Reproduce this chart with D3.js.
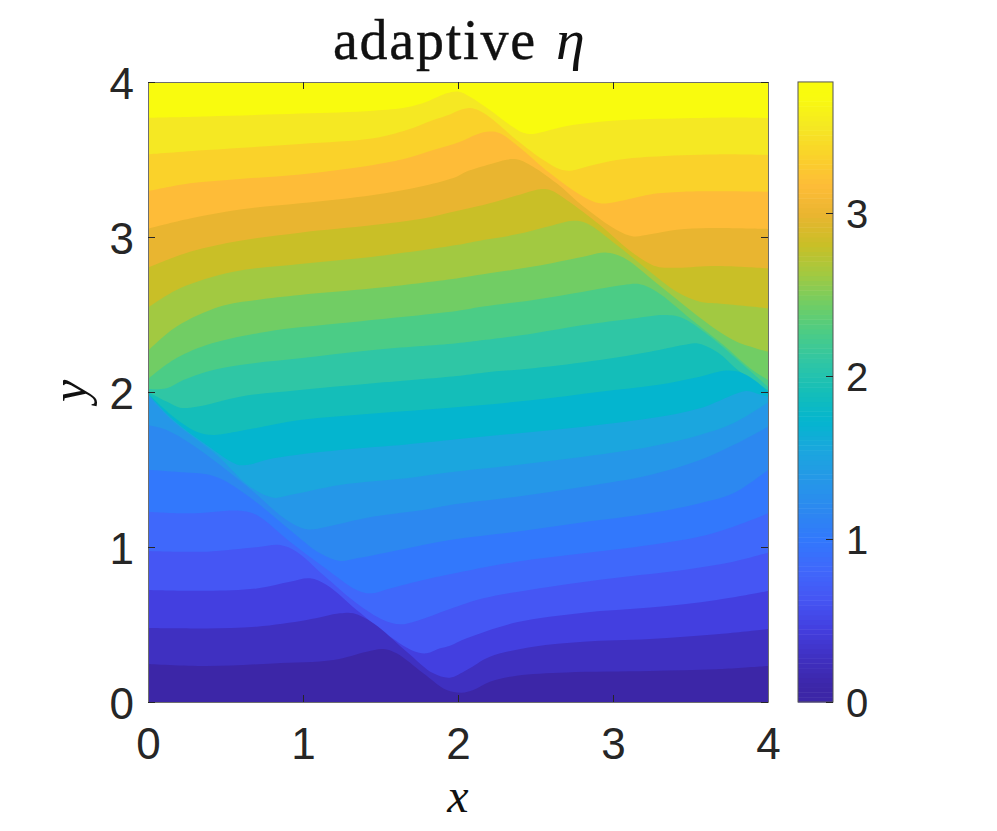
<!DOCTYPE html>
<html><head><meta charset="utf-8">
<style>html,body{margin:0;padding:0;background:#fff}svg{display:block}</style>
<script src="https://cdn.jsdelivr.net/npm/d3@7"></script></head>
<body><svg id="c" width="997" height="831"></svg>
<script>
// Band colours, from the highest band to the lowest
const bandColors = ["#F9FB0E","#F5E823","#FAD22A","#FEBC38","#E9B530","#C9BF27","#A2C941","#71CD64","#4BCC86","#2FC6A5","#14BEB9","#04B5CF","#1BA6DE","#2597E8","#2C88F0","#3278FC","#3F68FB","#4556F4","#433FE0","#3F30C1","#3C26A7"];
const etaMax = 3.804;
const xTicks = [0,1,2,3,4], yTicks = [0,1,2,3,4], cbTicks = [0,1,2,3];
// Contour lines [x, y], from the highest level to the lowest
const line01 = [[0,3.770],[.378,3.778],[.981,3.796],[1.454,3.815],[1.669,3.837],[1.798,3.873],[1.927,3.927],[2.0,3.938],[2.077,3.905],[2.206,3.819],[2.335,3.723],[2.421,3.673],[2.486,3.665],[2.594,3.690],[2.701,3.716],[2.916,3.744],[3.239,3.761],[3.669,3.770],[4,3.768]];
const line02 = [[0,3.533],[.378,3.561],[.981,3.600],[1.454,3.637],[1.669,3.690],[1.841,3.755],[1.948,3.791],[2.013,3.819],[2.077,3.832],[2.142,3.813],[2.228,3.755],[2.378,3.626],[2.551,3.497],[2.658,3.437],[2.723,3.428],[2.852,3.460],[3.024,3.497],[3.239,3.518],[3.669,3.533],[4,3.529]];
const line03 = [[0,3.295],[.271,3.346],[.594,3.374],[.981,3.404],[1.454,3.465],[1.669,3.508],[1.841,3.561],[2.013,3.615],[2.120,3.662],[2.206,3.680],[2.271,3.669],[2.378,3.594],[2.594,3.411],[2.809,3.260],[2.916,3.217],[3.024,3.228],[3.239,3.275],[3.454,3.292],[4,3.292]];
const line04 = [[0,3.054],[.271,3.120],[.594,3.178],[.981,3.217],[1.454,3.271],[1.776,3.329],[1.991,3.389],[2.056,3.422],[2.206,3.469],[2.314,3.499],[2.378,3.501],[2.465,3.465],[2.637,3.346],[2.809,3.196],[3.024,3.045],[3.131,3.004],[3.239,3.017],[3.411,3.047],[3.626,3.058],[4,3.052]];
const line05 = [[0,2.802],[.271,2.905],[.594,2.976],[.981,3.028],[1.454,3.077],[1.776,3.120],[1.991,3.168],[2.163,3.206],[2.378,3.267],[2.529,3.308],[2.594,3.303],[2.701,3.239],[2.916,3.077],[3.131,2.895],[3.282,2.809],[3.411,2.802],[3.669,2.813],[4,2.798]];
const line06 = [[0,2.544],[.206,2.669],[.551,2.776],[.981,2.826],[1.454,2.873],[1.991,2.948],[2.163,2.981],[2.378,3.017],[2.594,3.071],[2.744,3.105],[2.830,3.088],[3.024,2.948],[3.239,2.776],[3.411,2.647],[3.561,2.583],[3.669,2.572],[4,2.540]];
const line07 = [[0,2.265],[.185,2.422],[.465,2.551],[.701,2.594],[.981,2.626],[1.454,2.669],[1.991,2.733],[2.163,2.759],[2.486,2.809],[2.809,2.873],[2.959,2.899],[3.067,2.867],[3.282,2.701],[3.497,2.529],[3.669,2.400],[3.798,2.325],[4,2.260]];
const line08 = [[0,2.084],[.163,2.206],[.378,2.303],[.766,2.389],[1.239,2.443],[1.991,2.523],[2.163,2.551],[2.486,2.594],[2.809,2.647],[3.067,2.690],[3.174,2.695],[3.282,2.647],[3.497,2.475],[3.712,2.303],[3.884,2.153],[4,2.077]];
const line09 = [[0,2.019],[.120,2.024],[.228,2.077],[.378,2.131],[.594,2.174],[.981,2.217],[1.454,2.271],[1.991,2.314],[2.163,2.335],[2.486,2.378],[2.809,2.432],[3.131,2.475],[3.348,2.497],[3.454,2.475],[3.669,2.325],[3.841,2.174],[4,2.034]];
const line10 = [[0,2.0],[.120,1.938],[.206,1.899],[.314,1.905],[.594,1.970],[.981,2.013],[1.454,2.056],[1.991,2.103],[2.163,2.125],[2.486,2.153],[2.916,2.206],[3.239,2.260],[3.454,2.303],[3.540,2.314],[3.669,2.260],[3.819,2.131],[4,2.013]];
const line11 = [[0,1.99],[.163,1.841],[.314,1.744],[.422,1.723],[.594,1.748],[.981,1.819],[1.454,1.862],[1.948,1.899],[2.486,1.948],[2.916,2.002],[3.282,2.045],[3.561,2.099],[3.733,2.138],[3.841,2.120],[3.927,2.066],[4,2.002]];
const line12 = [[0,1.985],[.163,1.819],[.378,1.658],[.572,1.533],[.637,1.529],[.809,1.572],[1.239,1.626],[1.669,1.662],[1.948,1.690],[2.378,1.733],[2.809,1.776],[3.239,1.830],[3.561,1.895],[3.798,1.991],[3.862,2.006],[3.927,1.991],[4,1.970]];
const line13 = [[0,1.98],[.163,1.809],[.443,1.594],[.658,1.389],[.809,1.318],[.916,1.335],[1.239,1.400],[1.669,1.443],[1.948,1.482],[2.378,1.529],[2.809,1.583],[3.239,1.647],[3.561,1.723],[3.776,1.798],[4,1.933]];
const line14 = [[0,1.787],[.120,1.755],[.271,1.669],[.465,1.529],[.680,1.357],[.895,1.174],[1.024,1.114],[1.153,1.131],[1.454,1.196],[1.776,1.239],[1.948,1.271],[2.378,1.325],[2.809,1.389],[3.239,1.465],[3.561,1.561],[3.776,1.658],[4,1.776]];
const line15 = [[0,1.499],[.228,1.482],[.378,1.469],[.486,1.432],[.680,1.303],[.916,1.110],[1.110,.959],[1.239,.910],[1.346,.927],[1.669,.991],[1.948,1.045],[2.378,1.099],[2.809,1.159],[3.239,1.217],[3.561,1.282],[3.776,1.346],[4,1.497]];
const line16 = [[0,1.228],[.271,1.217],[.594,1.234],[.701,1.206],[.916,1.034],[1.131,.873],[1.346,.723],[1.432,.701],[1.561,.733],[1.776,.787],[1.948,.824],[2.378,.905],[2.809,.959],[3.239,1.013],[3.561,1.067],[3.776,1.131],[4,1.217]];
const line17 = [[0,.974],[.378,.970],[.701,.998],[.852,1.013],[.959,.970],[1.131,.819],[1.346,.637],[1.518,.529],[1.626,.501],[1.733,.523],[1.948,.600],[2.163,.669],[2.594,.744],[3.024,.802],[3.454,.852],[3.776,.905],[4,.963]];
const line18 = [[0,.723],[.378,.718],[.701,.733],[.916,.776],[1.045,.798],[1.153,.755],[1.346,.594],[1.561,.422],[1.712,.329],[1.798,.314],[1.884,.346],[1.948,.363],[2.056,.411],[2.378,.514],[2.809,.576],[3.239,.609],[3.669,.658],[4,.716]];
const line19 = [[0,.477],[.378,.475],[.701,.486],[1.024,.529],[1.239,.572],[1.325,.572],[1.454,.508],[1.669,.325],[1.841,.185],[1.948,.157],[2.056,.206],[2.206,.292],[2.486,.357],[2.809,.389],[3.239,.406],[3.669,.437],[4,.471]];
const line20 = [[0,.245],[.378,.232],[.809,.249],[1.196,.271],[1.411,.325],[1.518,.342],[1.604,.314],[1.776,.185],[1.927,.077],[2.024,.060],[2.099,.077],[2.206,.131],[2.378,.170],[2.701,.191],[3.239,.200],[3.669,.211],[4,.232]];
const contourLines = [line01,line02,line03,line04,line05,line06,line07,line08,line09,line10,line11,line12,line13,line14,line15,line16,line17,line18,line19,line20];

const ink = "#262626";
const svg = d3.select("#c");
const x = d3.scaleLinear().domain([0,4]).range([148,768]);
const y = d3.scaleLinear().domain([0,4]).range([702,82]);
const cb = d3.scaleLinear().domain([0,3]).range([702,213]);

svg.append("defs").append("clipPath").attr("id","plot").append("rect")
  .attr("x",x(0)).attr("y",y(4)).attr("width",x(4)-x(0)).attr("height",y(0)-y(4));
const plot = svg.append("g").attr("clip-path","url(#plot)");
plot.append("rect").attr("x",x(0)).attr("y",y(4)).attr("width",x(4)-x(0)).attr("height",y(0)-y(4)).attr("fill",bandColors[0]);
const area = d3.area().x(d=>x(d[0])).y0(y(0)).y1(d=>y(d[1])).curve(d3.curveCatmullRom.alpha(0.5));
plot.selectAll("path.band").data(contourLines).join("path").attr("class","band")
  .attr("d",area).attr("fill",(d,i)=>bandColors[i+1]);

function styleAxis(g,labels,size,dy){
  g.select(".domain").attr("stroke","#6e6e6e").attr("stroke-width",1);
  g.selectAll(".tick line").attr("stroke",ink).attr("stroke-width",1);
  g.selectAll(".tick text").attr("fill",ink).attr("font-family","'Liberation Sans',Arial,sans-serif").attr("font-size",size).attr("y",function(){return +this.getAttribute("y")||dy;});
  if(!labels) g.selectAll(".tick text").remove();
}
const mk = (gen,tx,ty,labels,size,dy)=>svg.append("g").attr("transform",`translate(${tx},${ty})`).call(gen).call(styleAxis,labels,size,dy);
mk(d3.axisBottom(x).tickValues(xTicks).tickSize(-7).tickSizeOuter(0).tickPadding(26).tickFormat(d3.format("d")),0,702,true,44,0);
mk(d3.axisTop(x).tickValues(xTicks).tickSize(-7).tickSizeOuter(0),0,82,false,44,0);
mk(d3.axisLeft(y).tickValues(yTicks).tickSize(-7).tickSizeOuter(0).tickPadding(14).tickFormat(d3.format("d")),148,0,true,44,2);
mk(d3.axisRight(y).tickValues(yTicks).tickSize(-7).tickSizeOuter(0),768,0,false,44,0);

// Colorbar
const steps = 128;
const cbColor = d3.scaleLinear()
  .domain(bandColors.map((c,i)=>etaMax*(1-(i+.5)/bandColors.length)))
  .range(bandColors).interpolate(d3.interpolateRgb).clamp(true);
svg.append("g").selectAll("rect").data(d3.range(steps)).join("rect")
  .attr("x",798).attr("width",35)
  .attr("y",i=>cb(etaMax*(i+1)/steps)).attr("height",i=>cb(etaMax*i/steps)-cb(etaMax*(i+1)/steps)+.5)
  .attr("fill",i=>cbColor(etaMax*(i+.5)/steps));
svg.append("rect").attr("x",798).attr("y",cb(etaMax)).attr("width",35).attr("height",cb(0)-cb(etaMax))
  .attr("fill","none").attr("stroke","#555").attr("stroke-width",1);
const cbAxis = svg.append("g").attr("transform","translate(833,0)")
  .call(d3.axisRight(cb).tickValues(cbTicks).tickSize(-7).tickSizeOuter(0).tickPadding(13).tickFormat(d3.format("d")));
cbAxis.select(".domain").remove();
cbAxis.selectAll(".tick line").attr("stroke",ink);
cbAxis.selectAll(".tick text").attr("fill",ink).attr("font-family","'Liberation Sans',Arial,sans-serif").attr("font-size",40).attr("y",2);

// Titles
const serif = "'Liberation Serif','DejaVu Serif',serif";
const title = svg.append("text").attr("x",333).attr("y",59).attr("font-family",serif).attr("font-size",56).attr("fill","#111").attr("stroke","#111").attr("stroke-width",.4);
title.append("tspan").text("adaptive").attr("textLength",202).attr("lengthAdjust","spacing");
svg.append("text").attr("x",556).attr("y",59).attr("font-family",serif).attr("font-size",58).attr("font-style","italic").attr("fill","#111").text("η");
svg.append("text").attr("x",458).attr("y",812).attr("text-anchor","middle").attr("font-family",serif).attr("font-style","italic").attr("font-size",48).attr("fill","#111").text("x");
svg.append("text").attr("transform","translate(86,391) rotate(-90)").attr("text-anchor","middle").attr("font-family",serif).attr("font-style","italic").attr("font-size",50).attr("fill","#111").text("y");
</script></body></html>
